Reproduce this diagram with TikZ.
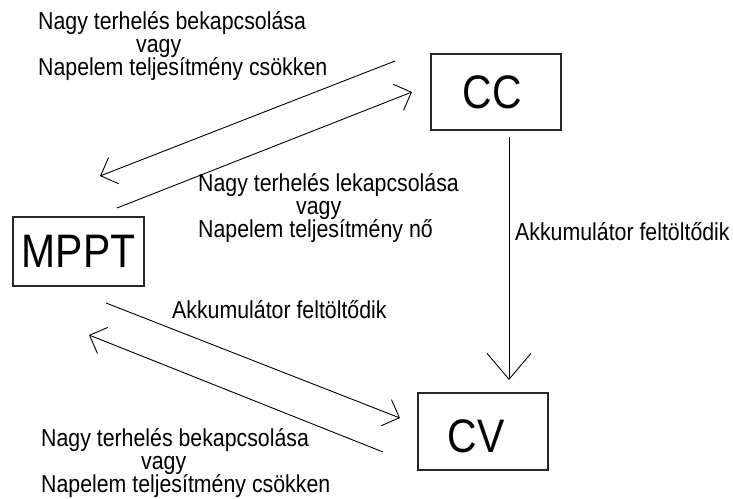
\documentclass[tikz,border=0pt]{standalone}
\usepackage{fontspec}
\setmainfont{Liberation Sans}
\newfontfamily\narrowsans[FakeStretch=0.87]{Liberation Sans}
\usetikzlibrary{arrows.meta}
\newcommand{\smalltxt}{\narrowsans\fontsize{24.5}{23}\selectfont\lineskiplimit=-30pt}
\newcommand{\bigtxt}{\narrowsans\fontsize{47}{48}\selectfont}
\begin{document}
\begin{tikzpicture}[x=1pt,y=-1pt,
  statebox/.style={draw=black!85,line width=1.2pt,inner sep=0pt,minimum width=130pt,font=\bigtxt},
  lbl/.style={inner sep=0pt,anchor=base west,align=left,font=\smalltxt},
  conn/.style={line width=0.9pt,-{Straight Barb[length=14pt,width=28pt]}},
  bigconn/.style={line width=0.9pt,-{Straight Barb[length=26pt,width=44pt]}}]
\useasboundingbox (0,0) rectangle (733,498);
\node[statebox,minimum height=76pt] (cc) at (496,92) {CC\hspace*{8pt}};
\node[statebox,minimum height=77pt] (cv) at (483,431.5) {\raisebox{-5pt}[\height][\depth]{CV}\hspace*{14pt}};
\node[statebox,minimum width=131pt,minimum height=69pt] (mppt) at (78.5,251.5) {MPPT};
\coordinate (a1s) at (395,61);  \coordinate (a1e) at (100,176);
\coordinate (a2s) at (117,208); \coordinate (a2e) at (412,92);
\coordinate (a3s) at (383,452); \coordinate (a3e) at (89,335);
\coordinate (a4s) at (106,303); \coordinate (a4e) at (400,418);
\coordinate (a5s) at (509,137); \coordinate (a5e) at (509,380);
\draw[conn] (a1s) -- (a1e);
\draw[conn] (a2s) -- (a2e);
\draw[conn] (a3s) -- (a3e);
\draw[conn] (a4s) -- (a4e);
\draw[bigconn] (a5s) -- (a5e);
\node[lbl] (ltop) at (38,75) {Nagy terhelés bekapcsolása\\\hspace*{98pt}vagy\\Napelem teljesítmény csökken};
\node[lbl] (lmid) at (198,237) {Nagy terhelés lekapcsolása\\\hspace*{98pt}vagy\\Napelem teljesítmény nő};
\node[lbl] (lbot) at (41,492) {Nagy terhelés bekapcsolása\\\hspace*{100pt}vagy\\Napelem teljesítmény csökken};
\node[lbl] (lacc1) at (172,318) {Akkumulátor feltöltődik};
\node[lbl] (lacc2) at (515,240) {Akkumulátor feltöltődik};
\end{tikzpicture}
\end{document}
